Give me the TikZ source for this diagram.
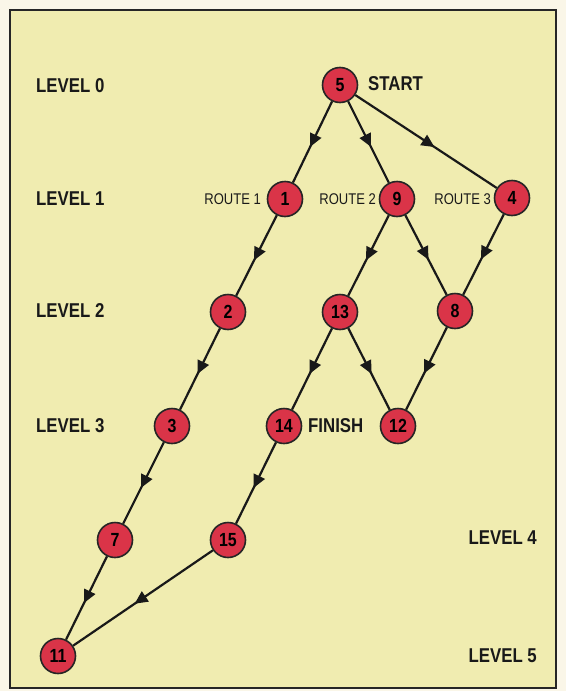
\documentclass[tikz,border=0pt]{standalone}
\usepackage{fontspec}
\newfontfamily\cond{Liberation Sans}[FakeStretch=0.84]
\usetikzlibrary{arrows.meta,decorations.markings}
\definecolor{paper}{RGB}{250,246,232}
\definecolor{bg}{RGB}{240,236,176}
\definecolor{nodered}{RGB}{218,52,72}
\tikzset{
  vert/.style={circle, draw=black!85, line width=1.6pt, fill=nodered, minimum size=35pt, inner sep=0pt, font=\cond\bfseries\fontsize{19}{19}\selectfont},
  lvl/.style={font=\cond\bfseries\fontsize{20}{20}\selectfont, text=black!90, inner sep=0pt},
  rt/.style={font=\cond\fontsize{15.5}{16}\selectfont, text=black!90, anchor=east, inner sep=0pt},
  flow/.style={draw=black!90, line width=2.2pt, postaction={decorate},
    decoration={markings, mark=at position 0.56 with {\arrow{Triangle[length=13pt,width=12pt]}}}}
}
\begin{document}
\begin{tikzpicture}[x=1pt,y=-1pt]
\fill[paper] (0,0) rectangle (566,691);
\useasboundingbox (0,0) rectangle (566,691);
\draw[fill=bg, line width=2pt, draw=black!85] (10,10) rectangle (556,688);
% nodes
\node[vert] (n5) at (340,85) {5};
\node[vert] (n1) at (285,199) {1};
\node[vert] (n9) at (397,199) {9};
\node[vert] (n4) at (512,198) {4};
\node[vert] (n2) at (228,312) {2};
\node[vert] (n13) at (340,312) {13};
\node[vert] (n8) at (455,311) {8};
\node[vert] (n3) at (172,426) {3};
\node[vert] (n14) at (284,426) {14};
\node[vert] (n12) at (398,426) {12};
\node[vert] (n7) at (115,540) {7};
\node[vert] (n15) at (228,540) {15};
\node[vert] (n11) at (58,656) {11};
% edges
\path[flow] (n5) -- (n1);
\path[flow] (n5) -- (n9);
\path[flow] (n5) -- (n4);
\path[flow] (n1) -- (n2);
\path[flow] (n2) -- (n3);
\path[flow] (n3) -- (n7);
\path[flow] (n7) -- (n11);
\path[flow] (n9) -- (n13);
\path[flow] (n9) -- (n8);
\path[flow] (n4) -- (n8);
\path[flow] (n13) -- (n14);
\path[flow] (n13) -- (n12);
\path[flow] (n8) -- (n12);
\path[flow] (n14) -- (n15);
\path[flow] (n15) -- (n11);
% labels
\node[lvl, anchor=west] (l0) at (36,86) {LEVEL 0};
\node[lvl, anchor=west] (l1) at (36,199) {LEVEL 1};
\node[lvl, anchor=west] (l2) at (36,311) {LEVEL 2};
\node[lvl, anchor=west] (l3) at (36,426) {LEVEL 3};
\node[lvl, anchor=east] (l4) at (537,538) {LEVEL 4};
\node[lvl, anchor=east] (l5) at (537,656) {LEVEL 5};
\node[lvl, anchor=west] (st) at (368,84) {START};
\node[lvl, anchor=west] (fi) at (308,426) {FINISH};
\node[rt] (r1) at (261,199) {ROUTE 1};
\node[rt] (r2) at (376,199) {ROUTE 2};
\node[rt] (r3) at (491,199) {ROUTE 3};
\end{tikzpicture}
\end{document}
